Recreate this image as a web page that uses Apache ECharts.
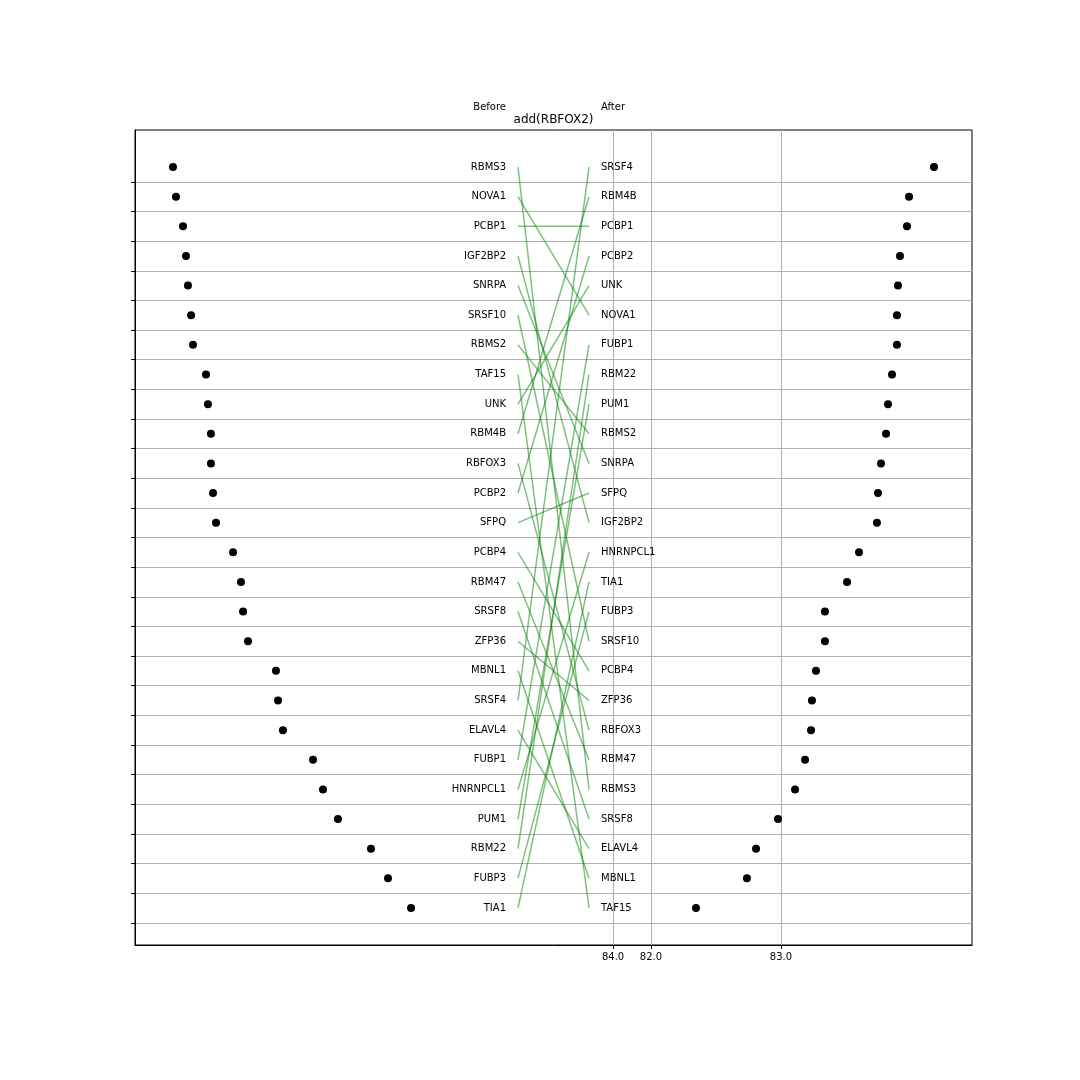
<!DOCTYPE html>
<html>
<head>
<meta charset="utf-8">
<script src="https://cdn.jsdelivr.net/npm/echarts@6/dist/echarts.min.js"></script>
<style>html,body{margin:0;padding:0;background:#fff;}#c{width:1080px;height:1080px;}</style>
</head>
<body>
<div id="c"></div>
<script>
const titleText = 'add(RBFOX2)';
const beforeNames = ['RBMS3','NOVA1','PCBP1','IGF2BP2','SNRPA','SRSF10','RBMS2','TAF15','UNK','RBM4B','RBFOX3','PCBP2','SFPQ','PCBP4','RBM47','SRSF8','ZFP36','MBNL1','SRSF4','ELAVL4','FUBP1','HNRNPCL1','PUM1','RBM22','FUBP3','TIA1'];
const beforeValues = [84.177,84.154,84.100,84.077,84.062,84.038,84.023,83.923,83.908,83.885,83.885,83.869,83.846,83.715,83.654,83.638,83.600,83.385,83.369,83.331,83.100,83.023,82.908,82.654,82.523,82.346];
const afterNames = ['SRSF4','RBM4B','PCBP1','PCBP2','UNK','NOVA1','FUBP1','RBM22','PUM1','RBMS2','SNRPA','SFPQ','IGF2BP2','HNRNPCL1','TIA1','FUBP3','SRSF10','PCBP4','ZFP36','RBFOX3','RBM47','RBMS3','SRSF8','ELAVL4','MBNL1','TAF15'];
const afterValues = [84.177,83.985,83.969,83.915,83.900,83.892,83.892,83.854,83.823,83.808,83.769,83.746,83.738,83.600,83.508,83.338,83.338,83.269,83.238,83.231,83.185,83.108,82.977,82.808,82.738,82.346];
const xTickValues = [81.708, 82, 83];
const xTickLabels = ['84.0', '82.0', '83.0'];

const FONT = 'DejaVu Sans';
const GRIDC = '#b0b0b0';
const xMin = 78.0308, xMax = 84.4692;
const yMin = -1.25, yMax = beforeNames.length + 0.25;
const rowIdx = beforeNames.map((_, i) => i);
const boundaries = beforeNames.map((_, i) => i + 0.5);

const chart = echarts.init(document.getElementById('c'), null, {renderer: 'canvas'});

const lineSeries = beforeNames.map((name, i) => ({
  type: 'line', xAxisIndex: 2, yAxisIndex: 1, symbol: 'none', silent: true,
  lineStyle: {color: 'green', opacity: 0.5, width: 1.5},
  data: [[0, i], [1, afterNames.indexOf(name)]],
  z: 3, animation: false
}));

const option = {
  animation: false,
  backgroundColor: '#fff',
  textStyle: {fontFamily: FONT},
  graphic: [
    {type: 'text', x: 553.5, y: 120, style: {text: titleText, fontFamily: FONT, fontSize: 12, fill: '#000', align: 'center', verticalAlign: 'middle'}},
    {type: 'text', x: 506, y: 107, style: {text: 'Before', fontFamily: FONT, fontSize: 10, fill: '#000', align: 'right', verticalAlign: 'middle'}},
    {type: 'text', x: 601, y: 107, style: {text: 'After', fontFamily: FONT, fontSize: 10, fill: '#000', align: 'left', verticalAlign: 'middle'}}
  ],
  grid: [
    {left: 135, right: 108, top: 130, bottom: 135, show: true, borderColor: '#000', borderWidth: 1, backgroundColor: 'transparent'},
    {left: 518, width: 71, top: 130, bottom: 135}
  ],
  xAxis: [
    {type: 'value', gridIndex: 0, min: xMin, max: xMax, position: 'bottom',
     axisLine: {show: true, onZero: false, lineStyle: {color: '#000'}},
     axisTick: {show: true, length: 4, customValues: xTickValues, lineStyle: {color: '#000'}},
     axisLabel: {show: true, customValues: xTickValues, margin: 7, fontSize: 10, color: '#000', fontFamily: FONT,
       formatter: v => { let k = 0, d = Infinity; xTickValues.forEach((t, j) => { if (Math.abs(t - v) < d) { d = Math.abs(t - v); k = j; } }); return xTickLabels[k]; }},
     splitLine: {show: true, lineStyle: {color: GRIDC, width: 1}}},
    {type: 'value', gridIndex: 0, min: xMin, max: xMax, inverse: true, show: false, axisLine: {onZero: false}},
    {type: 'value', gridIndex: 1, min: 0, max: 1, show: false, axisLine: {onZero: false}}
  ],
  yAxis: [
    {type: 'value', gridIndex: 0, min: yMin, max: yMax, inverse: true,
     axisLine: {show: true, onZero: false, lineStyle: {color: '#000'}},
     axisTick: {show: true, length: 4, customValues: boundaries, lineStyle: {color: '#000'}},
     axisLabel: {show: false},
     splitLine: {show: true, lineStyle: {color: GRIDC, width: 1}}},
    {type: 'value', gridIndex: 1, min: yMin, max: yMax, inverse: true, position: 'left',
     axisLine: {show: false, onZero: false}, axisTick: {show: false}, splitLine: {show: false},
     axisLabel: {show: true, customValues: rowIdx, margin: 12, fontSize: 10, color: '#000', fontFamily: FONT,
       formatter: v => beforeNames[Math.round(v)] || ''}},
    {type: 'value', gridIndex: 1, min: yMin, max: yMax, inverse: true, position: 'right',
     axisLine: {show: false, onZero: false}, axisTick: {show: false}, splitLine: {show: false},
     axisLabel: {show: true, customValues: rowIdx, margin: 12, fontSize: 10, color: '#000', fontFamily: FONT,
       formatter: v => afterNames[Math.round(v)] || ''}}
  ],
  series: [
    ...lineSeries,
    {type: 'scatter', xAxisIndex: 1, yAxisIndex: 0, symbolSize: 8, itemStyle: {color: '#000', opacity: 1},
     data: beforeValues.map((v, i) => [v, i]), z: 5},
    {type: 'scatter', xAxisIndex: 0, yAxisIndex: 0, symbolSize: 8, itemStyle: {color: '#000', opacity: 1},
     data: afterValues.map((v, i) => [v, i]), z: 5}
  ]
};
chart.setOption(option);
</script>
</body>
</html>
